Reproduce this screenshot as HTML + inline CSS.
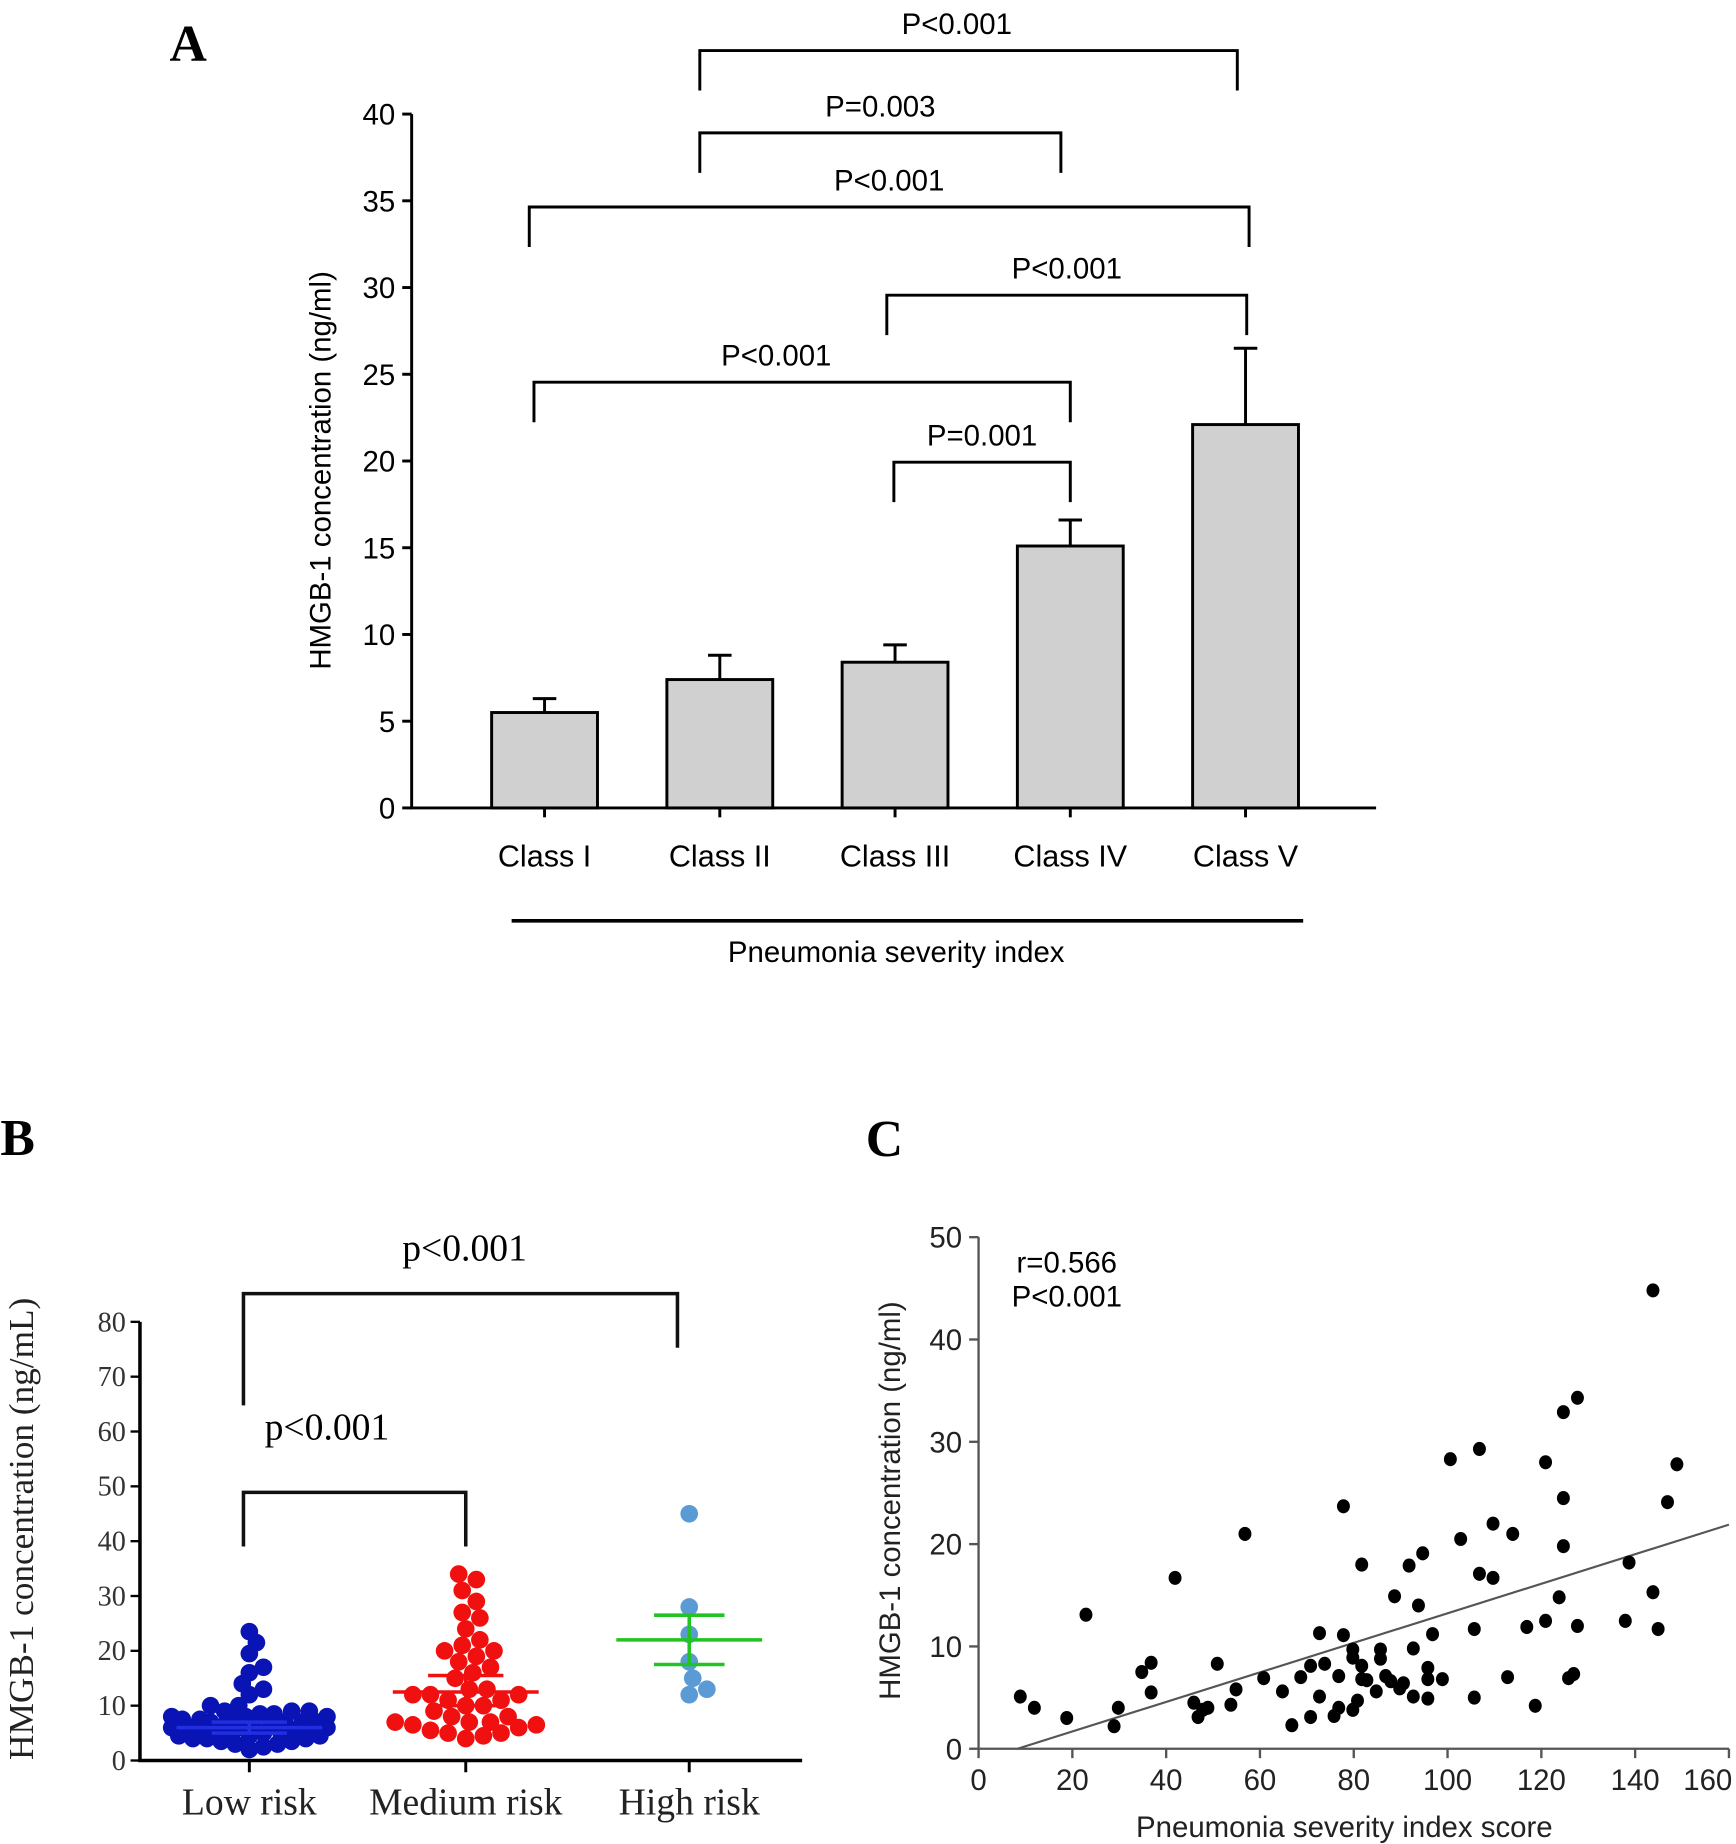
<!DOCTYPE html>
<html><head><meta charset="utf-8"><style>
html,body{margin:0;padding:0;background:#fff}
svg{display:block}
.s{font-family:"Liberation Sans",sans-serif}
.r{font-family:"Liberation Serif",serif}
</style></head><body>
<svg id="fig" width="1736" height="1844" viewBox="0 0 1476 1568" preserveAspectRatio="none" xmlns="http://www.w3.org/2000/svg">
<g id="pa"></g>
<g id="pb"></g>
<g id="pc"></g>
</svg>
<script>
// ---- Panel A data
const aCategories = ["Class I","Class II","Class III","Class IV","Class V"];
const aMeans = [5.5, 7.4, 8.4, 15.1, 22.1];
const aErrUpper = [6.3, 8.8, 9.4, 16.6, 26.5];
const aTicks = [0,5,10,15,20,25,30,35,40];
const aBrackets = [
  {from:1,to:3,label:"P<0.001",y:43},
  {from:1,to:3,label:"P=0.003",y:113},
  {from:0,to:4,label:"P<0.001",y:176},
  {from:2,to:4,label:"P<0.001",y:251},
  {from:0,to:3,label:"P<0.001",y:325},
  {from:2,to:3,label:"P=0.001",y:393}
];
// ---- Panel B data
const bCategories = ["Low risk","Medium risk","High risk"];
const bLow = [2,2.5,3,3,3.5,3.5,4,4,4,4.5,4.5,4.5,5,5,5,5,5.5,5.5,5.5,6,6,6,6,6.5,6.5,6.5,7,7,7,7,7.5,7.5,7.5,8,8,8,8.5,8.5,9,9,9,10,10,12,13,14,16,17,19.5,21.5,23.5];
const bMedium = [34,33,31,29,27,26,24,22,21,20,20,19,18,17,16,15,13,13,12,12,12,11,11,10,10,9,8,8,7,7,7,6.5,6.5,6,5.5,5,5,4.5,4];
const bHigh = [45,28,23,18,15,13,12];
const bMean = [6, 12.5, 22];
const bSemLo = [5, 10, 17.5];
const bSemHi = [7, 15.5, 26.5];
const bTicks = [0,10,20,30,40,50,60,70,80];
// ---- Panel C data
const cX = [8.9,11.9,18.8,22.9,28.9,29.8,34.8,36.8,36.8,41.9,45.9,46.8,47.8,48.9,50.9,53.8,54.9,56.8,60.8,64.8,66.8,68.7,70.8,70.8,72.7,72.7,73.8,75.8,76.8,76.8,77.8,77.8,79.8,79.8,79.8,80.8,81.7,81.7,81.7,82.8,84.8,85.7,85.7,86.8,87.9,88.7,89.8,90.6,91.8,92.7,92.7,93.8,94.7,95.8,95.8,95.8,96.8,98.9,100.6,102.8,105.7,105.7,106.8,106.8,109.7,109.7,112.8,113.9,116.9,118.7,120.9,120.9,123.8,124.7,124.7,124.7,125.8,126.9,127.7,127.7,137.9,138.7,143.8,143.8,144.9,146.9,148.9];
const cY = [5.1,4.0,3.0,13.1,2.2,4.0,7.5,8.4,5.5,16.7,4.5,3.1,3.8,4.0,8.3,4.3,5.8,21.0,6.9,5.6,2.3,7.0,3.1,8.1,5.1,11.3,8.3,3.2,4.0,7.1,23.7,11.1,3.8,9.7,8.9,4.7,18.0,8.1,6.8,6.7,5.6,9.7,8.8,7.1,6.6,14.9,5.9,6.4,17.9,9.8,5.1,14.0,19.1,7.9,6.8,4.9,11.2,6.8,28.3,20.5,11.7,5.0,29.3,17.1,22.0,16.7,7.0,21.0,11.9,4.2,28.0,12.5,14.8,32.9,24.5,19.8,6.9,7.3,34.3,12.0,12.5,18.2,44.8,15.3,11.7,24.1,27.8];
const cFitX = [8.3, 160];
const cFitY = [0, 21.9];
const cXTicks = [0,20,40,60,80,100,120,140,160];
const cYTicks = [0,10,20,30,40,50];

const NS="http://www.w3.org/2000/svg";
function mk(parent,tag,attrs,text){const e=document.createElementNS(NS,tag);for(const k in attrs)e.setAttribute(k,attrs[k]);if(text!==undefined)e.textContent=text;parent.appendChild(e);return e;}

// ===== Panel A
(function(){
const g=document.getElementById('pa');
const ax=350, ay0=687, ayTop=97, xEnd=1170;
const yA=v=>ay0-(v/40)*(ay0-ayTop);
const xA=i=>463+i*149;
let t=mk(g,'text',{x:160,y:52,'font-size':44,'font-weight':'bold','text-anchor':'middle',class:'r'},'A');


let l=mk(g,'path',{d:`M${ax},${ayTop}V${ay0}H${xEnd}`,stroke:'#000','stroke-width':2.5,fill:'none'});


aTicks.forEach(v=>{
  const y=yA(v);
  let tk=mk(g,'line',{x1:ax-8,x2:ax,y1:y,y2:y,stroke:'#000','stroke-width':2.5});
  
  
  let tl=mk(g,'text',{x:ax-14,y:y+9,'font-size':25,'text-anchor':'end',class:'s'},String(v));
  
  
});
aCategories.forEach((c,i)=>{
  const x=xA(i);
  let eb=mk(g,'path',{d:`M${x},${yA(aMeans[i])}V${yA(aErrUpper[i])}M${x-10},${yA(aErrUpper[i])}H${x+10}`,stroke:'#000','stroke-width':2.5,fill:'none'});
  
  
  let b=mk(g,'rect',{x:x-45,y:yA(aMeans[i]),width:90,height:ay0-yA(aMeans[i]),fill:'#d0d0d0',stroke:'#000','stroke-width':2.5});
  
  
  let tk=mk(g,'line',{x1:x,x2:x,y1:ay0,y2:ay0+8,stroke:'#000','stroke-width':2.5});
  
  
  let tl=mk(g,'text',{x:x,y:737,'font-size':26,'text-anchor':'middle',class:'s'},c);
  
  
});
const bx=[[595,1052],[595,902],[450,1062],[754,1060],[454,910],[760,910]];
aBrackets.forEach((br,k)=>{
  const x1=bx[k][0], x2=bx[k][1];
  const y=br.y;
  let p=mk(g,'path',{d:`M${x1},${y+34}V${y}H${x2}V${y+34}`,stroke:'#000','stroke-width':2.5,fill:'none'});
  
  
  let tl=mk(g,'text',{x:(x1+x2)/2+(k===4?-22:(k===0?-10:0)),y:y-14,'font-size':25,'text-anchor':'middle',class:'s'},br.label);
  
  
});
let gl=mk(g,'line',{x1:435,x2:1108,y1:783,y2:783,stroke:'#000','stroke-width':3});


let xt=mk(g,'text',{x:762,y:818,'font-size':25,'text-anchor':'middle',class:'s'},'Pneumonia severity index');


let yt=mk(g,'text',{x:0,y:0,'font-size':25,'text-anchor':'middle',class:'s',transform:'translate(281,400) rotate(-90)'},'HMGB-1 concentration (ng/ml)');


})();

// ===== Panel B
(function(){
const g=document.getElementById('pb');
const ax=119, y0=1497, yTop=1124, xEnd=682;
const yB=v=>y0-(v/80)*(y0-yTop);
const xB=[212,396,586];
let t=mk(g,'text',{x:15,y:982,'font-size':44,'font-weight':'bold','text-anchor':'middle',class:'r'},'B');


let l=mk(g,'path',{d:`M${ax},${yTop}V${y0}H${xEnd}`,stroke:'#000','stroke-width':3,fill:'none'});


bTicks.forEach(v=>{
  const y=yB(v);
  let tk=mk(g,'line',{x1:ax-8,x2:ax,y1:y,y2:y,stroke:'#000','stroke-width':2});
  
  
  let tl=mk(g,'text',{x:ax-12,y:y+8,'font-size':24,'text-anchor':'end',class:'r',fill:'#333'},String(v));
  
  
});
const series=[bLow,bMedium,bHigh];
const colors=['#0a14b4','#f01010','#5b9bd5'];
const minD=[10.5,14,14];
const maxOff=[66,66,40];
const r=7.5;
series.forEach((vals,si)=>{
  const placed=[];
  const sorted=vals.slice().sort((a,b)=>a-b);
  sorted.forEach(v=>{
    const y=yB(v);
    let x=null, best=xB[si], bestD=-1;
    for(let k=0;k<80;k++){
      const off=(k===0?0:Math.ceil(k/2)*(k%2?1:-1))*3;
      if(Math.abs(off)>maxOff[si]) break;
      const cx=xB[si]+off;
      const d=placed.length?Math.min(...placed.map(p=>Math.hypot(p[0]-cx,p[1]-y))):99;
      if(d>=minD[si]){x=cx;break;}
      if(d>bestD){bestD=d;best=cx;}
    }
    if(x===null) x=best;
    placed.push([x,y]);
    let c=mk(g,'circle',{cx:x,cy:y,r:r,fill:colors[si]});
    
    
  });
});
const lc=['#2030e0','#f01010','#22c422'];
const mw=[62,62,62], sw=[32,32,30];
series.forEach((vals,si)=>{
  const x=xB[si];
  let p=mk(g,'path',{d:`M${x-mw[si]},${yB(bMean[si])}H${x+mw[si]}M${x},${yB(bSemLo[si])}V${yB(bSemHi[si])}M${x-sw[si]},${yB(bSemLo[si])}H${x+sw[si]}M${x-sw[si]},${yB(bSemHi[si])}H${x+sw[si]}`,stroke:lc[si],'stroke-width':3,fill:'none'});
  
  
  let tk=mk(g,'line',{x1:x,x2:x,y1:y0,y2:y0+10,stroke:'#000','stroke-width':2.5});
  
  
  let tl=mk(g,'text',{x:x,y:1543,'font-size':32,'text-anchor':'middle',class:'r',fill:'#222'},bCategories[si]);
  
  
});
let p1=mk(g,'path',{d:'M207,1195V1100H576V1146',stroke:'#111','stroke-width':3,fill:'none'});


let t1=mk(g,'text',{x:395,y:1072,'font-size':32,'text-anchor':'middle',class:'r'},'p<0.001');


let p2=mk(g,'path',{d:'M207,1315V1269H396V1315',stroke:'#111','stroke-width':3,fill:'none'});


let t2=mk(g,'text',{x:278,y:1224,'font-size':32,'text-anchor':'middle',class:'r'},'p<0.001');


let yt=mk(g,'text',{x:0,y:0,'font-size':30,'text-anchor':'middle',class:'r',fill:'#222',transform:'translate(28,1300) rotate(-90)'},'HMGB-1 concentration (ng/mL)');


})();

// ===== Panel C
(function(){
const g=document.getElementById('pc');
const x0=832, x1=1470, y0=1487, yTop=1052;
const xC=v=>x0+(v/160)*(x1-x0);
const yC=v=>y0-(v/50)*(y0-yTop);
let t=mk(g,'text',{x:752,y:983,'font-size':44,'font-weight':'bold','text-anchor':'middle',class:'r'},'C');


let l=mk(g,'path',{d:`M${x0},${yTop}V${y0}H${x1}`,stroke:'#555','stroke-width':2,fill:'none'});


cYTicks.forEach(v=>{
  const y=yC(v);
  let tk=mk(g,'line',{x1:x0-8,x2:x0,y1:y,y2:y,stroke:'#555','stroke-width':2});
  
  
  let tl=mk(g,'text',{x:x0-14,y:y+9,'font-size':25,'text-anchor':'end',class:'s',fill:'#222'},String(v));
  
  
});
cXTicks.forEach(v=>{
  const x=xC(v);
  let tk=mk(g,'line',{x1:x,x2:x,y1:y0,y2:y0+8,stroke:'#555','stroke-width':2});
  
  
  let tl=mk(g,'text',{x:Math.min(x,1452),y:y0+35,'font-size':25,'text-anchor':'middle',class:'s',fill:'#222'},String(v));
  
  
});
let fit=mk(g,'line',{x1:xC(cFitX[0]),y1:yC(cFitY[0]),x2:xC(cFitX[1]),y2:yC(cFitY[1]),stroke:'#555','stroke-width':1.8});


cX.forEach((v,i)=>{
  let c=mk(g,'ellipse',{cx:xC(v),cy:yC(cY[i]),rx:5.5,ry:6,fill:'#000'});
  
  
});
let r1=mk(g,'text',{x:907,y:1082,'font-size':25,'text-anchor':'middle',class:'s'},'r=0.566');


let r2=mk(g,'text',{x:907,y:1111,'font-size':25,'text-anchor':'middle',class:'s'},'P<0.001');


let xt=mk(g,'text',{x:1143,y:1562,'font-size':25,'text-anchor':'middle',class:'s',fill:'#222'},'Pneumonia severity index score');


let yt=mk(g,'text',{x:0,y:0,'font-size':25,'text-anchor':'middle',class:'s',fill:'#222',transform:'translate(765,1276) rotate(-90)'},'HMGB-1 concentration (ng/ml)');


})();
</script>
</body></html>
